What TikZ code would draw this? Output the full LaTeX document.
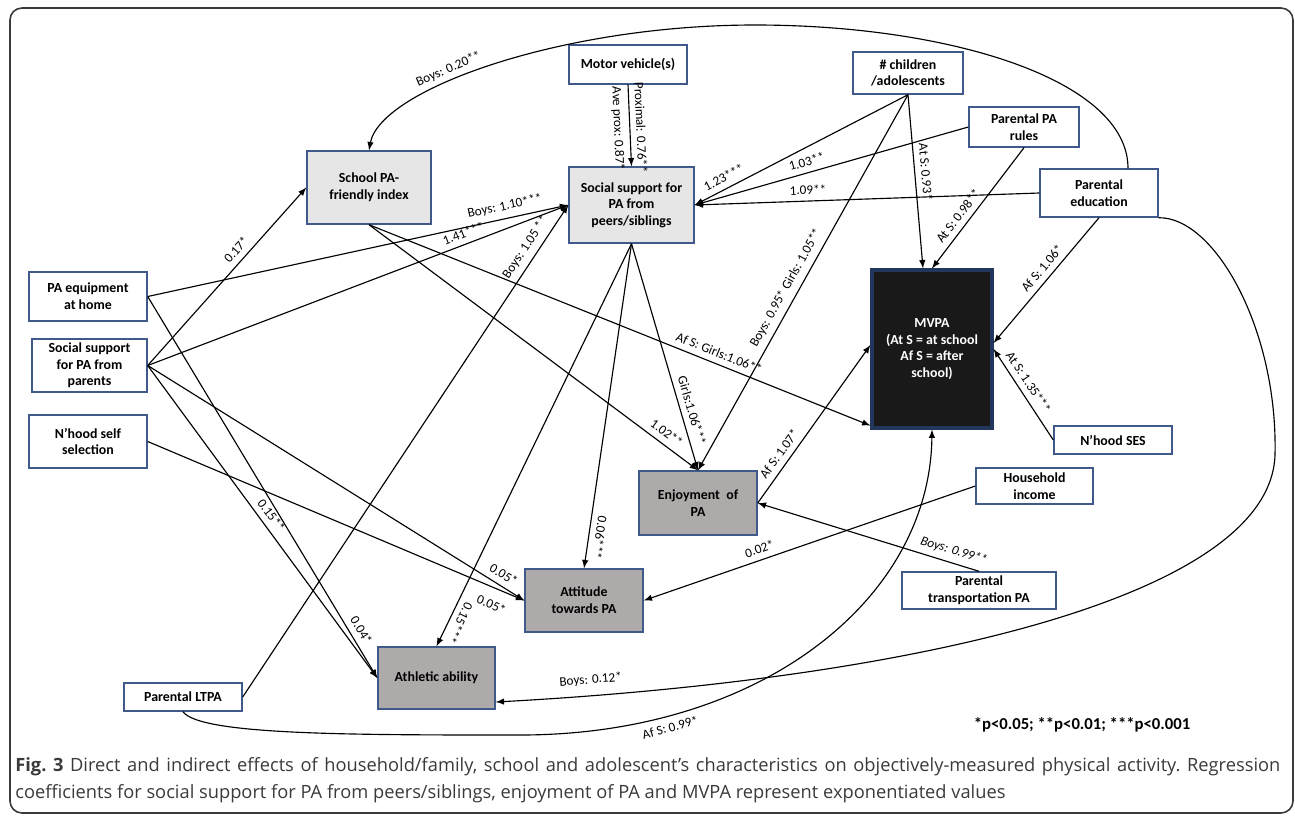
\documentclass[tikz,border=0pt]{standalone}
\usepackage{fontspec}
\setmainfont{Carlito}
\newfontfamily\capfont{Open Sans}
\usetikzlibrary{calc}
\usetikzlibrary{arrows}

\definecolor{boxline}{HTML}{3F5A8A}
\definecolor{lightfill}{HTML}{E7E6E6}
\definecolor{darkfill}{HTML}{AEAAAA}
\definecolor{mvpafill}{HTML}{191919}
\definecolor{mvpaline}{HTML}{23375C}
\definecolor{framegray}{HTML}{3A3A3A}
\definecolor{capgray}{HTML}{3A3A3A}

\begin{document}
\begin{tikzpicture}[x=0.2mm, y=-0.2mm, >=latex,
  box/.style={rectangle, draw=boxline, line width=0.8pt, fill=white, align=center, inner sep=1pt, font=\bfseries\fontsize{7.9}{9.5}\selectfont},
  lbox/.style={box, fill=lightfill},
  gbox/.style={box, fill=darkfill},
  coef/.style={font=\fontsize{7.5}{9}\selectfont, sloped},
  link/.style={->, line width=0.65pt}]
\useasboundingbox (0,0) rectangle (1295,816);
\draw[framegray, line width=0.9pt, rounded corners=2.4mm] (10,8) rectangle (1293,813);

\draw (88,296.5) node[box, name = equip, minimum width = 23.6mm, minimum height = 9.8mm]{PA equipment\\at home};
\draw (89.5,365.5) node[box, name = ssp, minimum width = 23mm, minimum height = 10.6mm]{Social support\\for PA from\\parents};
\draw (88,441.5) node[box, name = nself, minimum width = 23.6mm, minimum height = 10.6mm]{N’hood self\\selection};
\draw (183,697) node[box, name = ltpa, minimum width = 23.6mm, minimum height = 5.6mm]{Parental LTPA};
\draw (369,187.5) node[lbox, name = school, minimum width = 24.8mm, minimum height = 14.6mm]{School PA-\\friendly index};
\draw (628,64.5) node[box, name = motor, minimum width = 23.6mm, minimum height = 7.8mm]{Motor vehicle(s)};
\draw (631.5,205) node[lbox, name = peers, minimum width = 25mm, minimum height = 15.2mm]{Social support for\\PA from\\peers/siblings};
\draw (908,73) node[box, name = kids, minimum width = 22mm, minimum height = 8.4mm]{\# children\\/adolescents};
\draw (1024,127) node[box, name = rules, minimum width = 22mm, minimum height = 8mm]{Parental PA\\rules};
\draw (1099,193) node[box, name = pedu, minimum width = 23.6mm, minimum height = 9.6mm]{Parental\\education};
\draw (932,349) node[box, name = mvpa, fill = mvpafill, draw = mvpaline, line width = 1.8pt, text = white, minimum width = 24mm, minimum height = 31.6mm]{MVPA\\(At S = at school\\Af S = after\\school)};
\draw (1113,440) node[box, name = ses, minimum width = 23.6mm, minimum height = 5.6mm]{N’hood SES};
\draw (1034.5,486) node[box, name = income, minimum width = 23.4mm, minimum height = 7.2mm]{Household\\income};
\draw (698,503) node[gbox, name = enjoy, minimum width = 23.6mm, minimum height = 12.8mm]{Enjoyment\ \ of\\PA};
\draw (979,590.5) node[box, name = transp, minimum width = 30.8mm, minimum height = 7.4mm]{Parental\\transportation PA};
\draw (584,600.5) node[gbox, name = attit, minimum width = 23.6mm, minimum height = 12.6mm]{Attitude\\towards PA};
\draw (436.5,678) node[gbox, name = athl, minimum width = 23.4mm, minimum height = 12.4mm]{Athletic ability};

% curved paths
\draw[link] ($(pedu.north)+(29,0)$) .. controls (1128,80) and (950,25) .. (755,25) .. controls (560,25) and (380,90) .. node[coef, pos=0.6, above]{Boys: 0.20**} (school.north);
\draw[link] (pedu.south east) .. controls (1215,217) and (1278,330) .. (1275,455) .. controls (1270,600) and (900,680) .. node[coef, pos=0.92, above=2pt]{Boys: 0.12*} ($(athl.east)+(0,24)$);
\draw[link] (ltpa.south) .. controls (200,735) and (350,735) .. (520,735) .. controls (760,735) and (930,600) .. node[coef, pos=0.22, below]{Af S: 0.99*} (mvpa.south);

% straight paths
\draw[link] (motor.south) -- node[coef, pos=0.53, below]{Ave prox: 0.87*} node[coef, pos=0.53, above]{Proximal: 0.76**} (peers.north);
\draw[link] (kids.south) -- node[coef, pos=0.84, above]{1.23***} (peers.east);
\draw[link] (kids.south) -- node[coef, pos=0.45, above]{At S: 0.93*} ($(mvpa.north)+(-9,0)$);
\draw[link] (kids.south) -- node[coef, pos=0.53, above]{Boys: 0.95* Girls: 1.05**} (enjoy.north);
\draw[link] (rules.west) -- node[coef, pos=0.58, above]{1.03**} (peers.east);
\draw[link] (rules.south) -- node[coef, pos=0.62, above]{At S: 0.98**} (mvpa.north);
\draw[link] (pedu.west) -- node[coef, pos=0.67, above]{1.09**} (peers.east);
\draw[link] (pedu.south) -- node[coef, pos=0.46, above]{Af S: 1.06*} ($(mvpa.east)+(0,-6)$);
\draw[link] (ses.west) -- node[coef, pos=0.57, above]{At S: 1.35***} (mvpa.east);
\draw[link] (ltpa.east) -- node[coef, pos=0.9, above]{Boys: 1.05 **} (peers.west);
\draw[link] (equip.east) -- node[coef, pos=0.855, above]{Boys: 1.10***} (peers.west);
\draw[link] (ssp.east) -- node[coef, pos=0.76, above]{1.41***} (peers.west);
\draw[link] (ssp.east) -- node[coef, pos=0.61, above]{0.17*} (school.west);
\draw[link] (school.south) -- node[coef, pos=0.885, above]{1.02**} (enjoy.north);
\draw[link] (school.south) -- node[coef, pos=0.69, above]{Af S: Girls:1.06**} ($(mvpa.south west)+(0,-4)$);
\draw[link] (enjoy.east) -- node[coef, pos=0.27, above]{Af S: 1.07*} ($(mvpa.west)+(0,-4)$);
\draw[link] (transp.north) -- node[coef, pos=0.13, above, font=\itshape\fontsize{7.5}{9}\selectfont]{Boys: 0.99**} (enjoy.east);
\draw[link] (income.west) -- node[coef, pos=0.64, above]{0.02*} (attit.east);
\draw[link] (peers.south) -- node[coef, pos=0.75, above]{Girls:1.06***} (enjoy.north);
\draw[link] (peers.south) -- node[coef, pos=0.9, above, allow upside down]{0.06***} (attit.north);
\draw[link] (peers.south) -- node[coef, pos=0.93, above, allow upside down]{0.15***} (athl.north);
\draw[link] (ssp.east) -- node[coef, pos=0.5, above]{0.15**} (athl.west);
\draw[link] (equip.east) -- node[coef, pos=0.89, above]{0.04*} (athl.west);
\draw[link] (ssp.east) -- node[coef, pos=0.93, above]{0.05*} (attit.west);
\draw[link] (nself.east) -- node[coef, pos=0.93, below=3pt]{0.05*} (attit.west);

\draw (1082,725) node[name = sig, font = \bfseries\fontsize{9.5}{11}\selectfont]{*p<0.05; **p<0.01; ***p<0.001};
\draw (15,757) node[name = caption, anchor = north west, text width = 253mm, align = justify, inner sep = 0pt, text = capgray, font = \capfont\frenchspacing\fontsize{10.4}{15.3}\selectfont]{\textbf{Fig.~3} Direct and indirect effects of household/family, school and adolescent’s characteristics on objectively-measured physical activity. Regression\linebreak coefficients for social support for PA from peers/siblings, enjoyment of PA and MVPA represent exponentiated values};
\end{tikzpicture}
\end{document}
